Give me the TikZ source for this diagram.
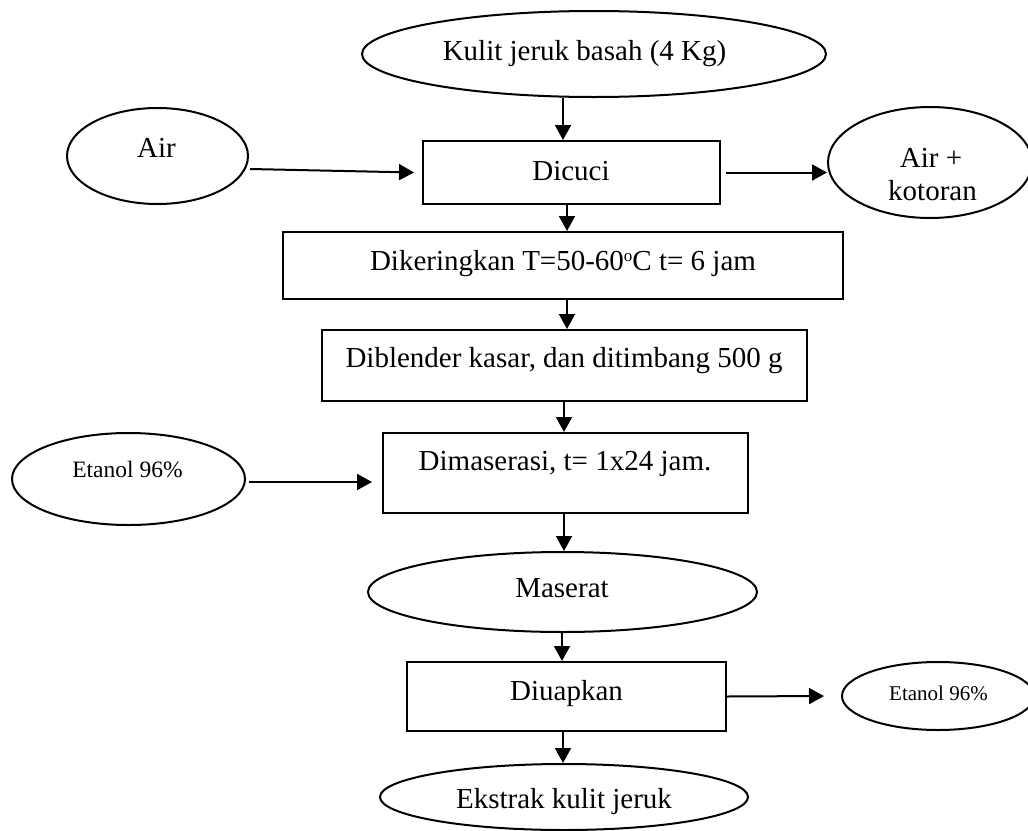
\documentclass[tikz,border=0pt]{standalone}
\usepackage{fontspec}
\setmainfont{Liberation Serif}
\usetikzlibrary{shapes.geometric,arrows.meta}
\begin{document}
\begin{tikzpicture}[x=1pt,y=-1pt,line width=2pt,
  proc/.style={draw,rectangle,inner sep=0pt},
  term/.style={draw,ellipse,inner sep=0pt},
  lbl/.style={anchor=base,inner sep=0pt,font=\fontsize{29}{34}\selectfont},
  lblsmall/.style={anchor=base,inner sep=0pt,font=\fontsize{23.5}{28}\selectfont},
  lbltiny/.style={anchor=base,inner sep=0pt,font=\fontsize{21}{25}\selectfont},
  arr/.style={-{Triangle[length=15pt,width=16pt]}}]
\useasboundingbox (0,0) rectangle (1028,830);

% axis positions of the vertical flow arrows
\coordinate (s1) at (563,0);
\coordinate (s2) at (567,0);
\coordinate (s3) at (564,0);
\coordinate (s4) at (562,0);

% raw material
\node[term,minimum width=464pt,minimum height=86pt] (raw) at (594,54) {};
\node[lbl] (rawt) at (584.5,60) {Kulit jeruk basah (4 Kg)};

% washing
\node[proc,minimum width=297pt,minimum height=63pt] (wash) at (571.5,172.5) {};
\node[lbl] (washt) at (571,180) {Dicuci};
\node[term,minimum width=181pt,minimum height=96pt] (water) at (157.5,156) {};
\node[lbl] (watert) at (156.5,157) {Air};
\node[term,minimum width=204pt,minimum height=111pt] (waste) at (930,162.5) {};
\node[lbl] (wastet1) at (931,167) {Air +};
\node[lbl] (wastet2) at (932.5,200) {kotoran};

% drying and grinding
\node[proc,minimum width=560pt,minimum height=67pt] (dry) at (563,265.5) {};
\node[lbl] (dryt) at (563,270) {Dikeringkan T=50-60\raisebox{9pt}{\fontsize{17}{17}\selectfont o}C t= 6 jam};
\node[proc,minimum width=485pt,minimum height=71pt] (grind) at (564.5,365.5) {};
\node[lbl] (grindt) at (564,367) {Diblender kasar, dan ditimbang 500 g};

% maceration
\node[term,minimum width=233pt,minimum height=92pt] (eth1) at (128.5,479) {};
\node[lblsmall] (eth1t) at (127.5,477) {Etanol 96\%};
\node[proc,minimum width=365pt,minimum height=80pt] (mac) at (565.5,473) {};
\node[lbl] (mact) at (565,470) {Dimaserasi, t= 1x24 jam.};
\node[term,minimum width=389pt,minimum height=80pt] (mas) at (562.5,592) {};
\node[lbl] (mast) at (562,597) {Maserat};

% evaporation
\node[proc,minimum width=319pt,minimum height=69pt] (evap) at (566.5,696.5) {};
\node[lbl] (evapt) at (566.5,700) {Diuapkan};
\node[term,minimum width=192pt,minimum height=68pt] (eth2) at (938,696) {};
\node[lbltiny] (eth2t) at (938.5,700) {Etanol 96\%};
\node[term,minimum width=368pt,minimum height=66pt] (ext) at (564,797) {};
\node[lbl] (extt) at (564,808) {Ekstrak kulit jeruk};

% main flow
\draw[arr] (raw.south -| s1) -- (wash.north -| s1);
\draw[arr] (wash.south -| s2) -- (dry.north -| s2);
\draw[arr] (dry.south -| s2) -- (grind.north -| s2);
\draw[arr] (grind.south -| s3) -- (mac.north -| s3);
\draw[arr] (mac.south -| s3) -- (mas.north -| s3);
\draw[arr] (mas.south -| s4) -- (evap.north -| s4);
\draw[arr] (evap.south -| s1) -- (ext.north -| s1);

% side streams
\draw[arr] ([xshift=1pt,yshift=-13pt]water.east) -- ([xshift=-8pt]wash.west);
\draw[arr] ([xshift=5pt]wash.east) -- (waste.west |- wash.east);
\draw[arr] ([xshift=3pt,yshift=-3pt]eth1.east) -- ([xshift=-10pt,yshift=-9pt]mac.west);
\draw[arr] (evap.east) -- ([xshift=-17pt]eth2.west);
\end{tikzpicture}
\end{document}
